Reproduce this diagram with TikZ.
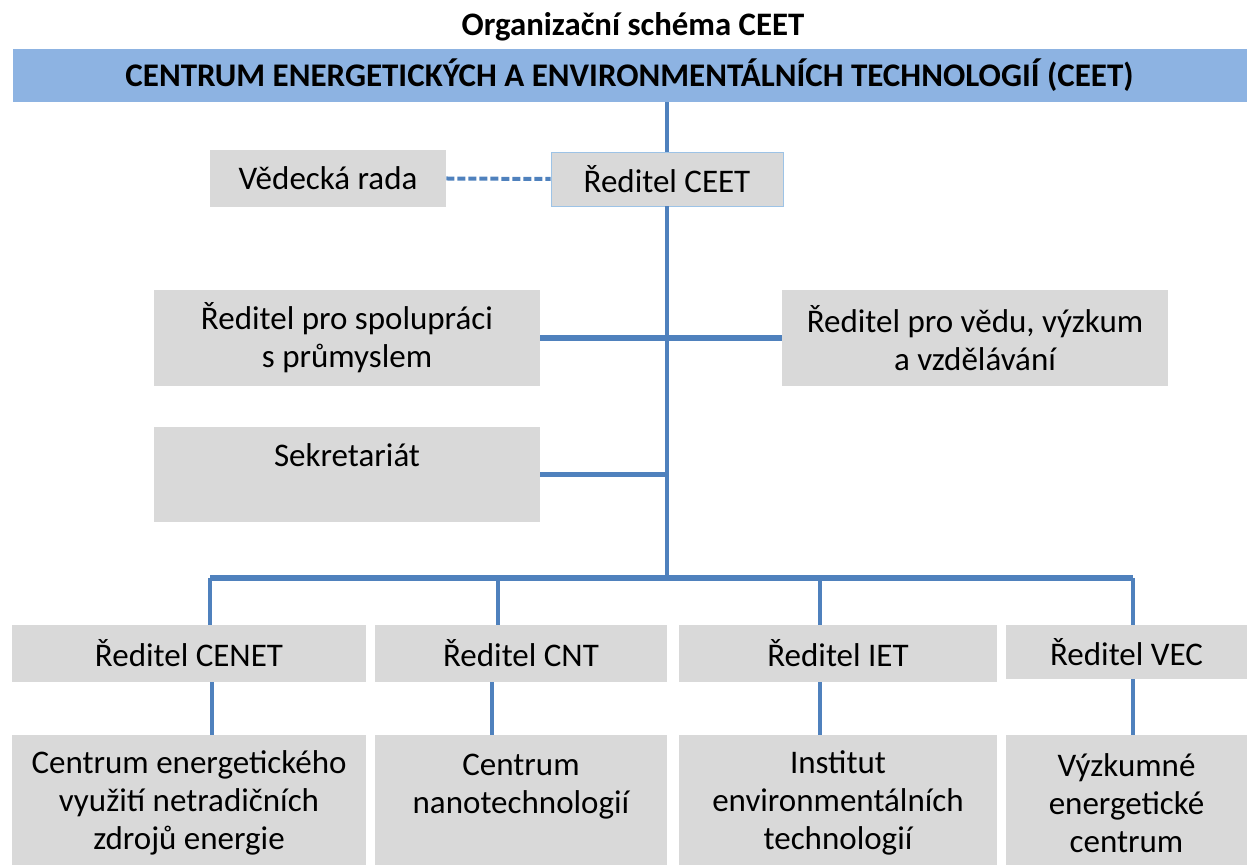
\documentclass[tikz,border=0pt]{standalone}
\usepackage{fontspec}
\setmainfont{Carlito}
\usetikzlibrary{positioning}
\definecolor{boxgray}{HTML}{D9D9D9}
\definecolor{hdrblue}{HTML}{8DB3E2}
\definecolor{linkblue}{HTML}{4F81BD}
\definecolor{edgeblue}{HTML}{9DC3E6}
\begin{document}
\begin{tikzpicture}[x=0.5pt,y=-0.5pt]
	\tikzstyle{box} = [fill=boxgray, align=center, inner sep=0pt, font=\fontsize{16.5}{19}\selectfont]
	\tikzstyle{link} = [linkblue, line width=1.6pt]
	\tikzstyle{thick link} = [linkblue, line width=2.6pt]
	\useasboundingbox (0,0) rectangle (1247,865);

	% title and header band
	\node[font=\fontsize{16.4}{18}\selectfont\bfseries] (title) at (633,27) {Organizační schéma CEET};
	\node[fill=hdrblue, draw=white, minimum width=617.5pt, minimum height=27pt, inner sep=0pt,
		font=\fontsize{16.5}{18}\selectfont\bfseries] (hdr) at (629.5,75)
		{CENTRUM ENERGETICKÝCH A ENVIRONMENTÁLNÍCH TECHNOLOGIÍ (CEET)};

	% top management
	\node[box, draw=edgeblue, minimum width=116pt, minimum height=27pt] (ceet) at (667,179) {Ředitel CEET};
	\node[box, minimum width=118pt, minimum height=28.5pt] (rada) at (328,178.5) {Vědecká rada};
	\node[box, minimum width=193pt, minimum height=48pt] (spol) at (347,338) {Ředitel pro spolupráci\\s průmyslem};
	\node[box, minimum width=193pt, minimum height=48pt] (ved) at (975,338) {Ředitel pro vědu, výzkum\\a vzdělávání};
	\node[box, minimum width=193pt, minimum height=47.5pt] (sek) at (347,474.5) {Sekretariát\\\mbox{}};

	% directors
	\node[box, minimum width=177pt, minimum height=28.5pt] (cenet) at (189,653.5) {Ředitel CENET};
	\node[box, minimum width=146pt, minimum height=28.5pt] (cnt) at (521,653.5) {Ředitel CNT};
	\node[box, minimum width=159pt, minimum height=28.5pt] (iet) at (838,653.5) {Ředitel IET};
	\node[box, minimum width=120.5pt, minimum height=27pt] (vec) at (1126.5,652) {Ředitel VEC};

	% centres
	\node[box, minimum width=177pt, minimum height=68pt] (ucenet) at (189,803) {Centrum energetického\\využití netradičních\\zdrojů energie};
	\node[box, minimum width=146pt, minimum height=68pt] (ucnt) at (521,803) {Centrum\\nanotechnologií\\\mbox{}};
	\node[box, minimum width=159pt, minimum height=68pt] (uiet) at (838,803) {Institut\\environmentálních\\technologií};
	\node[box, minimum width=120.5pt, minimum height=68pt] (uvec) at (1126.5,803) {Výzkumné\\energetické\\centrum};

	% connectors
	\coordinate (bus) at (667,578);
	\coordinate (b1) at (210,578);
	\coordinate (b2) at (498,578);
	\coordinate (b3) at (820,578);
	\coordinate (b4) at (1133,578);
	\draw[link] (ceet.north |- hdr.south) -- (ceet.north);
	\draw[link] (ceet.south) -- (bus);
	\draw[linkblue, line width=2pt, dash pattern=on 4pt off 1.5pt] (rada.east) -- (ceet.west);
	\draw[thick link] (spol.east) -- (ved.west);
	\draw[thick link] (sek.east) -- (sek.east -| bus);
	\draw[linkblue, line width=3pt] (b1) -- (b4);
	\draw[link, line width=2pt] (b1) -- (b1 |- cenet.north);
	\draw[link] (b2) -- (b2 |- cnt.north);
	\draw[link] (b3) -- (b3 |- iet.north);
	\draw[link, line width=2pt] (b4) -- (b4 |- vec.north);

	\coordinate (c1) at (212,0);
	\coordinate (c2) at (492,0);
	\coordinate (c3) at (820,0);
	\coordinate (c4) at (1133,0);
	\draw[link, line width=2pt] (c1 |- cenet.south) -- (c1 |- ucenet.north);
	\draw[link, line width=2pt] (c2 |- cnt.south) -- (c2 |- ucnt.north);
	\draw[link, line width=2pt] (c3 |- iet.south) -- (c3 |- uiet.north);
	\draw[link, line width=2pt] (c4 |- vec.south) -- (c4 |- uvec.north);
\end{tikzpicture}
\end{document}
